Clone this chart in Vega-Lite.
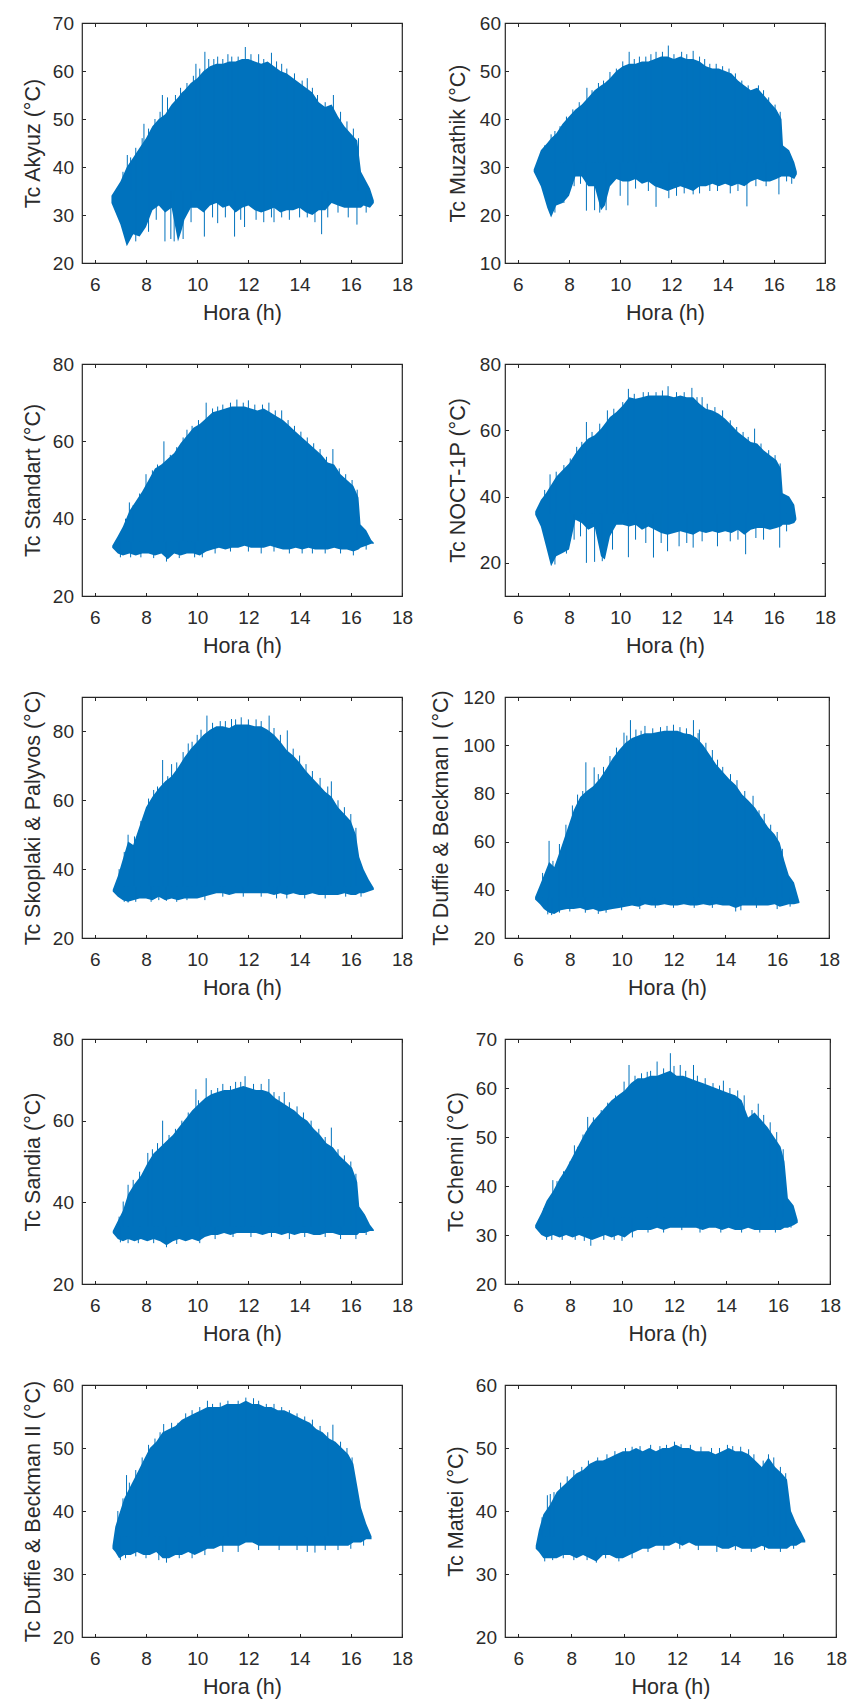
{
  "$schema": "https://vega.github.io/schema/vega-lite/v6.json",
  "padding": {"left": 21, "top": 13, "right": 5, "bottom": 5},
  "background": "white",
  "bounds": "flush",
  "columns": 2,
  "spacing": {"row": 101, "column": 103},
  "config": {
    "view": {"stroke": "#262626", "strokeWidth": 1.2},
    "axis": {"domain": false, "grid": false, "tickColor": "#262626", "tickSize": -3.5, "tickWidth": 1,
      "labelFont": "Liberation Sans", "labelFontSize": 19, "labelColor": "#2b2b2b", "labelFlush": false, "labelOverlap": false,
      "titleFont": "Liberation Sans", "titleFontSize": 21.5, "titleFontWeight": "normal", "titleColor": "#2b2b2b"},
    "axisBottom": {"labelPadding": 16, "titlePadding": 8},
    "axisLeft": {"labelPadding": 12, "titlePadding": 8}
  },
  "datasets": {
    "akyuz": [
      {"h":6.65,"lo":32.5,"hi":34},{"h":7.0,"lo":28,"hi":37},{"h":7.25,"lo":23.5,"hi":40},{"h":7.5,"lo":26,"hi":42},{"h":7.75,"lo":25.5,"hi":44},{"h":8.0,"lo":27.5,"hi":46},{"h":8.25,"lo":31,"hi":48.5},{"h":8.5,"lo":32,"hi":50},{"h":8.75,"lo":30.5,"hi":51},{"h":9.0,"lo":31.5,"hi":53},{"h":9.25,"lo":24.5,"hi":54.5},{"h":9.4,"lo":27,"hi":55.5},{"h":9.5,"lo":29,"hi":56},{"h":9.75,"lo":31.5,"hi":57.5},{"h":10.0,"lo":31.5,"hi":58.5},{"h":10.25,"lo":30.5,"hi":60},{"h":10.5,"lo":32,"hi":61},{"h":10.75,"lo":32.5,"hi":61.5},{"h":11.0,"lo":31.5,"hi":61.5},{"h":11.25,"lo":32,"hi":62},{"h":11.5,"lo":30.5,"hi":62},{"h":11.75,"lo":31.5,"hi":62.5},{"h":12.0,"lo":32,"hi":62.5},{"h":12.25,"lo":31,"hi":62},{"h":12.5,"lo":30.5,"hi":61.5},{"h":12.75,"lo":31,"hi":62},{"h":13.0,"lo":31.5,"hi":61},{"h":13.25,"lo":30.5,"hi":60},{"h":13.5,"lo":31,"hi":59.5},{"h":13.75,"lo":31,"hi":58.5},{"h":14.0,"lo":31.5,"hi":57.5},{"h":14.25,"lo":30.5,"hi":56.5},{"h":14.5,"lo":30,"hi":55.5},{"h":14.75,"lo":31,"hi":53.5},{"h":15.0,"lo":31,"hi":52.5},{"h":15.25,"lo":32.5,"hi":53},{"h":15.5,"lo":32,"hi":50.5},{"h":15.75,"lo":31.5,"hi":48.5},{"h":16.0,"lo":31.5,"hi":47},{"h":16.25,"lo":31.5,"hi":45.5},{"h":16.4,"lo":31.5,"hi":39},{"h":16.5,"lo":32,"hi":38},{"h":16.75,"lo":31.5,"hi":35.5},{"h":16.9,"lo":32.5,"hi":33}
    ],
    "akyuz_spikes": [
      {"h":7.27,"a":35,"b":42.5},{"h":7.92,"a":35,"b":49},{"h":8.64,"a":35,"b":55},{"h":8.84,"a":35,"b":54.5},{"h":9.95,"a":35,"b":61.5},{"h":10.3,"a":35,"b":64},{"h":10.8,"a":35,"b":63},{"h":11.2,"a":35,"b":63.5},{"h":11.88,"a":35,"b":65},{"h":12.4,"a":35,"b":63.5},{"h":12.9,"a":35,"b":63.8},{"h":13.3,"a":35,"b":61.5},{"h":14.3,"a":35,"b":58.5},{"h":15.32,"a":35,"b":55},
      {"h":7.1,"a":35,"b":39},{"h":7.4,"a":35,"b":42},{"h":7.6,"a":35,"b":44},{"h":7.85,"a":35,"b":46},{"h":8.1,"a":35,"b":48},{"h":8.35,"a":35,"b":50},{"h":8.55,"a":35,"b":51.5},{"h":9.15,"a":35,"b":55},{"h":9.35,"a":35,"b":56.5},{"h":9.6,"a":35,"b":57.5},{"h":9.85,"a":35,"b":59},{"h":10.1,"a":35,"b":60.5},{"h":10.45,"a":35,"b":62.5},{"h":10.65,"a":35,"b":62.5},{"h":11.0,"a":35,"b":62.5},{"h":11.35,"a":35,"b":63},{"h":11.6,"a":35,"b":63},{"h":12.1,"a":35,"b":63.5},{"h":12.6,"a":35,"b":62.5},{"h":13.1,"a":35,"b":62},{"h":13.5,"a":35,"b":60.5},{"h":13.8,"a":35,"b":59.5},{"h":14.1,"a":35,"b":58},{"h":14.5,"a":35,"b":56.5},{"h":14.7,"a":35,"b":55},{"h":15.0,"a":35,"b":53.5},{"h":15.6,"a":35,"b":51.5},{"h":15.85,"a":35,"b":49.5},{"h":16.1,"a":35,"b":48},{"h":16.3,"a":35,"b":46},
      {"h":8.74,"a":35,"b":24.5},{"h":8.97,"a":35,"b":25},{"h":9.1,"a":35,"b":24.5},{"h":9.76,"a":35,"b":28.5},{"h":10.28,"a":35,"b":25.5},{"h":10.8,"a":35,"b":28.3},{"h":11.46,"a":35,"b":25.5},{"h":11.85,"a":35,"b":27.5},{"h":12.3,"a":35,"b":29},{"h":13.0,"a":35,"b":28.5},{"h":13.6,"a":35,"b":29},{"h":14.3,"a":35,"b":29.5},{"h":14.86,"a":35,"b":26},{"h":16.24,"a":35,"b":28},
      {"h":7.6,"a":35,"b":24.5},{"h":8.1,"a":35,"b":26.5},{"h":8.4,"a":35,"b":29},{"h":9.45,"a":35,"b":25},{"h":10.6,"a":35,"b":29.5},{"h":11.1,"a":35,"b":29.5},{"h":11.7,"a":35,"b":29},{"h":12.6,"a":35,"b":28.5},{"h":12.9,"a":35,"b":29.5},{"h":13.3,"a":35,"b":29.5},{"h":14.0,"a":35,"b":29.5},{"h":14.6,"a":35,"b":28.5},{"h":15.1,"a":35,"b":29.5},{"h":15.5,"a":35,"b":30.5},{"h":15.9,"a":35,"b":29.5},{"h":16.6,"a":35,"b":30.5}
    ],
    "muzathik": [
      {"h":6.62,"lo":29,"hi":29.5},{"h":6.9,"lo":26,"hi":33.5},{"h":7.15,"lo":21.5,"hi":35},{"h":7.3,"lo":19.5,"hi":36},{"h":7.5,"lo":22,"hi":37},{"h":7.75,"lo":22.5,"hi":39},{"h":8.0,"lo":24,"hi":40.5},{"h":8.25,"lo":28,"hi":42},{"h":8.5,"lo":28,"hi":43},{"h":8.75,"lo":26,"hi":44.5},{"h":9.0,"lo":26,"hi":46},{"h":9.25,"lo":21,"hi":47},{"h":9.4,"lo":22,"hi":47.5},{"h":9.6,"lo":26,"hi":48.5},{"h":9.85,"lo":27.5,"hi":50},{"h":10.1,"lo":27,"hi":51},{"h":10.35,"lo":27,"hi":51.5},{"h":10.6,"lo":27.5,"hi":51.5},{"h":10.85,"lo":26.5,"hi":52},{"h":11.1,"lo":27,"hi":52},{"h":11.35,"lo":26,"hi":52.5},{"h":11.6,"lo":25.5,"hi":53},{"h":11.85,"lo":25,"hi":53},{"h":12.1,"lo":25.5,"hi":52.5},{"h":12.35,"lo":26,"hi":53},{"h":12.6,"lo":25.5,"hi":52.5},{"h":12.85,"lo":25,"hi":52.5},{"h":13.1,"lo":26,"hi":52},{"h":13.35,"lo":26,"hi":51},{"h":13.6,"lo":26.5,"hi":50.5},{"h":13.85,"lo":26,"hi":50.5},{"h":14.1,"lo":26.5,"hi":50},{"h":14.35,"lo":26,"hi":49.5},{"h":14.6,"lo":26.5,"hi":48},{"h":14.85,"lo":26,"hi":47},{"h":15.1,"lo":27,"hi":46},{"h":15.35,"lo":27.5,"hi":46.5},{"h":15.6,"lo":27,"hi":45},{"h":15.85,"lo":27,"hi":43.5},{"h":16.1,"lo":27.5,"hi":42},{"h":16.3,"lo":28,"hi":40},{"h":16.36,"lo":28,"hi":34.5},{"h":16.6,"lo":28,"hi":33.5},{"h":16.8,"lo":27.5,"hi":31},{"h":16.9,"lo":28.5,"hi":29}
    ],
    "muzathik_spikes": [
      {"h":7.3,"a":31,"b":36.8},{"h":8.7,"a":31,"b":46.5},{"h":9.6,"a":31,"b":49.8},{"h":10.35,"a":31,"b":54},{"h":10.75,"a":31,"b":53},{"h":11.4,"a":31,"b":54},{"h":11.88,"a":31,"b":55.3},{"h":12.85,"a":31,"b":54.2},{"h":13.3,"a":31,"b":52.5},{"h":14.0,"a":31,"b":51},{"h":15.4,"a":31,"b":47},
      {"h":7.05,"a":31,"b":34.5},{"h":7.45,"a":31,"b":37.5},{"h":7.65,"a":31,"b":38.5},{"h":7.9,"a":31,"b":40.5},{"h":8.15,"a":31,"b":42},{"h":8.4,"a":31,"b":43.5},{"h":8.9,"a":31,"b":46},{"h":9.15,"a":31,"b":47.5},{"h":9.35,"a":31,"b":48},{"h":9.85,"a":31,"b":50.5},{"h":10.1,"a":31,"b":52},{"h":10.55,"a":31,"b":52.5},{"h":11.0,"a":31,"b":53},{"h":11.2,"a":31,"b":53.5},{"h":11.65,"a":31,"b":54},{"h":12.1,"a":31,"b":53.5},{"h":12.4,"a":31,"b":54},{"h":12.6,"a":31,"b":53.5},{"h":13.1,"a":31,"b":53},{"h":13.5,"a":31,"b":51.5},{"h":13.75,"a":31,"b":51.5},{"h":14.25,"a":31,"b":50.5},{"h":14.5,"a":31,"b":49.5},{"h":14.75,"a":31,"b":48},{"h":15.0,"a":31,"b":47},{"h":15.6,"a":31,"b":46},{"h":15.8,"a":31,"b":44.5},{"h":16.05,"a":31,"b":43},{"h":16.25,"a":31,"b":41.5},
      {"h":7.8,"a":31,"b":22.5},{"h":8.68,"a":31,"b":20.9},{"h":9.0,"a":31,"b":21},{"h":10.0,"a":31,"b":24},{"h":10.3,"a":31,"b":22},{"h":11.4,"a":31,"b":21.7},{"h":11.9,"a":31,"b":23.5},{"h":12.85,"a":31,"b":24.3},{"h":13.5,"a":31,"b":25},{"h":14.95,"a":31,"b":21.8},{"h":16.2,"a":31,"b":24.3},
      {"h":7.45,"a":31,"b":20.5},{"h":8.2,"a":31,"b":26},{"h":8.45,"a":31,"b":26.5},{"h":9.2,"a":31,"b":20.5},{"h":9.45,"a":31,"b":21},{"h":10.6,"a":31,"b":25.5},{"h":11.1,"a":31,"b":25},{"h":12.2,"a":31,"b":24},{"h":12.5,"a":31,"b":24.5},{"h":13.1,"a":31,"b":24.5},{"h":13.8,"a":31,"b":25},{"h":14.3,"a":31,"b":24.5},{"h":14.6,"a":31,"b":25},{"h":15.3,"a":31,"b":26},{"h":15.7,"a":31,"b":26},{"h":16.5,"a":31,"b":27},{"h":16.7,"a":31,"b":26.5}
    ],
    "standart": [
      {"h":6.68,"lo":32.5,"hi":33},{"h":6.9,"lo":31,"hi":35.5},{"h":7.1,"lo":30.5,"hi":38},{"h":7.35,"lo":31,"hi":42},{"h":7.6,"lo":30.5,"hi":44.5},{"h":7.85,"lo":31,"hi":47},{"h":8.1,"lo":31,"hi":50},{"h":8.35,"lo":30.5,"hi":53},{"h":8.6,"lo":31,"hi":54},{"h":8.85,"lo":29.5,"hi":55.5},{"h":9.1,"lo":31,"hi":57},{"h":9.35,"lo":30.5,"hi":59.5},{"h":9.6,"lo":31,"hi":61.5},{"h":9.85,"lo":31,"hi":63.5},{"h":10.1,"lo":30.5,"hi":64.5},{"h":10.35,"lo":31.5,"hi":66},{"h":10.6,"lo":32,"hi":67.5},{"h":10.85,"lo":32.5,"hi":68},{"h":11.1,"lo":32,"hi":68.5},{"h":11.35,"lo":32.5,"hi":69},{"h":11.6,"lo":32.5,"hi":69},{"h":11.85,"lo":33,"hi":69},{"h":12.1,"lo":32.5,"hi":68.5},{"h":12.35,"lo":32.5,"hi":68},{"h":12.6,"lo":32.5,"hi":68.5},{"h":12.85,"lo":33,"hi":67.5},{"h":13.1,"lo":32.5,"hi":66.5},{"h":13.35,"lo":32,"hi":65.5},{"h":13.6,"lo":32,"hi":64},{"h":13.85,"lo":32.5,"hi":62.5},{"h":14.1,"lo":32,"hi":61},{"h":14.35,"lo":32.5,"hi":59.5},{"h":14.6,"lo":32,"hi":58},{"h":14.85,"lo":32,"hi":56.5},{"h":15.1,"lo":32,"hi":54.5},{"h":15.35,"lo":32.5,"hi":54},{"h":15.6,"lo":32,"hi":51.5},{"h":15.85,"lo":32,"hi":50},{"h":16.1,"lo":31.5,"hi":48.5},{"h":16.3,"lo":32,"hi":45.5},{"h":16.38,"lo":32.5,"hi":38.5},{"h":16.6,"lo":33,"hi":37},{"h":16.8,"lo":33.5,"hi":34.5},{"h":16.9,"lo":33.5,"hi":33.8}
    ],
    "standart_spikes": [
      {"h":7.35,"a":34,"b":44.2},{"h":8.0,"a":34,"b":51.5},{"h":8.7,"a":34,"b":60},{"h":9.6,"a":34,"b":63},{"h":10.35,"a":34,"b":70},{"h":11.0,"a":34,"b":69.5},{"h":11.55,"a":34,"b":70.8},{"h":12.0,"a":34,"b":70.6},{"h":12.8,"a":34,"b":70},{"h":13.3,"a":34,"b":68},{"h":15.3,"a":34,"b":58},
      {"h":7.2,"a":34,"b":40},{"h":7.5,"a":34,"b":43.5},{"h":7.75,"a":34,"b":46.5},{"h":8.25,"a":34,"b":52.5},{"h":8.45,"a":34,"b":54},{"h":8.95,"a":34,"b":56.5},{"h":9.2,"a":34,"b":58.5},{"h":9.45,"a":34,"b":61},{"h":9.8,"a":34,"b":64},{"h":10.05,"a":34,"b":65.5},{"h":10.6,"a":34,"b":68.5},{"h":10.8,"a":34,"b":69},{"h":11.3,"a":34,"b":70},{"h":11.8,"a":34,"b":70},{"h":12.25,"a":34,"b":69.5},{"h":12.55,"a":34,"b":69.5},{"h":13.05,"a":34,"b":68},{"h":13.55,"a":34,"b":65.5},{"h":13.8,"a":34,"b":64},{"h":14.05,"a":34,"b":62.5},{"h":14.3,"a":34,"b":61},{"h":14.55,"a":34,"b":59.5},{"h":14.8,"a":34,"b":58},{"h":15.05,"a":34,"b":56},{"h":15.55,"a":34,"b":53},{"h":15.8,"a":34,"b":51.5},{"h":16.05,"a":34,"b":50},{"h":16.25,"a":34,"b":47.5},
      {"h":7.0,"a":34,"b":30},{"h":8.8,"a":34,"b":28.9},{"h":9.9,"a":34,"b":30},{"h":12.5,"a":34,"b":31},{"h":14.5,"a":34,"b":31},
      {"h":7.4,"a":34,"b":30},{"h":7.8,"a":34,"b":30},{"h":8.3,"a":34,"b":29.8},{"h":9.3,"a":34,"b":29.8},{"h":10.2,"a":34,"b":30},{"h":10.7,"a":34,"b":31},{"h":11.3,"a":34,"b":31.5},{"h":12.0,"a":34,"b":31.5},{"h":13.0,"a":34,"b":31.5},{"h":13.6,"a":34,"b":31},{"h":14.1,"a":34,"b":31},{"h":15.0,"a":34,"b":31},{"h":15.6,"a":34,"b":31},{"h":16.1,"a":34,"b":30.5},{"h":16.6,"a":34,"b":32}
    ],
    "noct": [
      {"h":6.68,"lo":34.5,"hi":35.5},{"h":6.9,"lo":31,"hi":39},{"h":7.1,"lo":25,"hi":41},{"h":7.3,"lo":19,"hi":43.5},{"h":7.5,"lo":22,"hi":46},{"h":7.75,"lo":23,"hi":48},{"h":8.0,"lo":24,"hi":50},{"h":8.25,"lo":33,"hi":53},{"h":8.5,"lo":32,"hi":55.5},{"h":8.75,"lo":30,"hi":57.5},{"h":9.0,"lo":31,"hi":58.5},{"h":9.25,"lo":22,"hi":60.5},{"h":9.4,"lo":21,"hi":62},{"h":9.6,"lo":28,"hi":64},{"h":9.85,"lo":31.5,"hi":65.5},{"h":10.1,"lo":31.5,"hi":67.5},{"h":10.35,"lo":31,"hi":70},{"h":10.6,"lo":31.5,"hi":69.5},{"h":10.85,"lo":30,"hi":70},{"h":11.1,"lo":31,"hi":70.5},{"h":11.35,"lo":30,"hi":70.5},{"h":11.6,"lo":29,"hi":70.5},{"h":11.85,"lo":28.5,"hi":70.5},{"h":12.1,"lo":29,"hi":70},{"h":12.35,"lo":29.5,"hi":70.5},{"h":12.6,"lo":29,"hi":70},{"h":12.85,"lo":28.5,"hi":70},{"h":13.1,"lo":29.5,"hi":68},{"h":13.35,"lo":29,"hi":66.5},{"h":13.6,"lo":29.5,"hi":66},{"h":13.85,"lo":29,"hi":65},{"h":14.1,"lo":29.5,"hi":63.5},{"h":14.35,"lo":29,"hi":61.5},{"h":14.6,"lo":30,"hi":59.5},{"h":14.85,"lo":28.5,"hi":58},{"h":15.1,"lo":30,"hi":56.5},{"h":15.35,"lo":30.5,"hi":56},{"h":15.6,"lo":30.5,"hi":54},{"h":15.85,"lo":30,"hi":52.5},{"h":16.1,"lo":30.5,"hi":51},{"h":16.28,"lo":31,"hi":48.5},{"h":16.35,"lo":31.5,"hi":41},{"h":16.6,"lo":31.5,"hi":40},{"h":16.8,"lo":32,"hi":37.5},{"h":16.88,"lo":33,"hi":33.5}
    ],
    "noct_spikes": [
      {"h":7.26,"a":35,"b":46.7},{"h":8.68,"a":35,"b":62.5},{"h":9.5,"a":35,"b":66},{"h":10.32,"a":35,"b":72.5},{"h":10.9,"a":35,"b":71.5},{"h":11.87,"a":35,"b":73.3},{"h":12.8,"a":35,"b":72.8},{"h":13.2,"a":35,"b":70},{"h":15.25,"a":35,"b":60.5},
      {"h":7.05,"a":35,"b":42},{"h":7.5,"a":35,"b":47.5},{"h":7.8,"a":35,"b":49.5},{"h":8.05,"a":35,"b":51.5},{"h":8.3,"a":35,"b":55},{"h":8.5,"a":35,"b":56.5},{"h":8.9,"a":35,"b":59.5},{"h":9.2,"a":35,"b":62},{"h":9.75,"a":35,"b":66.5},{"h":10.1,"a":35,"b":68.5},{"h":10.55,"a":35,"b":71},{"h":11.1,"a":35,"b":71.5},{"h":11.4,"a":35,"b":71.5},{"h":11.65,"a":35,"b":72},{"h":12.2,"a":35,"b":71.5},{"h":12.5,"a":35,"b":71.5},{"h":13.0,"a":35,"b":70},{"h":13.4,"a":35,"b":68},{"h":13.7,"a":35,"b":67},{"h":14.0,"a":35,"b":66},{"h":14.3,"a":35,"b":63},{"h":14.55,"a":35,"b":61},{"h":14.8,"a":35,"b":59.5},{"h":15.0,"a":35,"b":58},{"h":15.5,"a":35,"b":56},{"h":15.8,"a":35,"b":54},{"h":16.05,"a":35,"b":52.5},{"h":16.25,"a":35,"b":50},
      {"h":7.9,"a":35,"b":22.8},{"h":8.68,"a":35,"b":20},{"h":9.0,"a":35,"b":20.3},{"h":10.32,"a":35,"b":21.7},{"h":11.3,"a":35,"b":21.6},{"h":11.85,"a":35,"b":23.5},{"h":12.85,"a":35,"b":24.6},{"h":13.8,"a":35,"b":25},{"h":14.9,"a":35,"b":22.6},{"h":16.23,"a":35,"b":24.6},
      {"h":7.45,"a":35,"b":19.5},{"h":8.2,"a":35,"b":27},{"h":8.45,"a":35,"b":28},{"h":9.3,"a":35,"b":20.5},{"h":9.7,"a":35,"b":24},{"h":10.6,"a":35,"b":27},{"h":11.0,"a":35,"b":26},{"h":11.6,"a":35,"b":26},{"h":12.3,"a":35,"b":25},{"h":12.6,"a":35,"b":26},{"h":13.2,"a":35,"b":26.5},{"h":14.3,"a":35,"b":26.5},{"h":14.6,"a":35,"b":27},{"h":15.3,"a":35,"b":27.5},{"h":15.6,"a":35,"b":27},{"h":16.5,"a":35,"b":29.5}
    ],
    "skoplaki": [
      {"h":6.7,"lo":33.5,"hi":34},{"h":6.9,"lo":32,"hi":38},{"h":7.1,"lo":31,"hi":43},{"h":7.3,"lo":30.5,"hi":48},{"h":7.5,"lo":31,"hi":47},{"h":7.75,"lo":31.5,"hi":52.5},{"h":8.0,"lo":31.5,"hi":58},{"h":8.25,"lo":31,"hi":61},{"h":8.5,"lo":32,"hi":63.5},{"h":8.75,"lo":31,"hi":65.5},{"h":9.0,"lo":31.5,"hi":67},{"h":9.25,"lo":31,"hi":69.5},{"h":9.5,"lo":31.5,"hi":72.5},{"h":9.75,"lo":31.5,"hi":75},{"h":10.0,"lo":31.5,"hi":77},{"h":10.25,"lo":32,"hi":79},{"h":10.5,"lo":32.5,"hi":80.5},{"h":10.75,"lo":33,"hi":81.5},{"h":11.0,"lo":33,"hi":81.5},{"h":11.25,"lo":32.5,"hi":81},{"h":11.5,"lo":33,"hi":82},{"h":11.75,"lo":33,"hi":82},{"h":12.0,"lo":33,"hi":82},{"h":12.25,"lo":33,"hi":81.5},{"h":12.5,"lo":33,"hi":81.5},{"h":12.75,"lo":33,"hi":80.5},{"h":13.0,"lo":32.5,"hi":79},{"h":13.25,"lo":33,"hi":77},{"h":13.5,"lo":32.5,"hi":74.5},{"h":13.75,"lo":33,"hi":73},{"h":14.0,"lo":32.5,"hi":71},{"h":14.25,"lo":32.5,"hi":68.5},{"h":14.5,"lo":33,"hi":66.5},{"h":14.75,"lo":32.5,"hi":64.5},{"h":15.0,"lo":32.5,"hi":62.5},{"h":15.25,"lo":32.5,"hi":61},{"h":15.5,"lo":32.5,"hi":58},{"h":15.75,"lo":33,"hi":56},{"h":16.0,"lo":32.5,"hi":54},{"h":16.2,"lo":32.5,"hi":50},{"h":16.33,"lo":33,"hi":43.5},{"h":16.5,"lo":33,"hi":40},{"h":16.7,"lo":33.5,"hi":37},{"h":16.9,"lo":34,"hi":34.5}
    ],
    "skoplaki_spikes": [
      {"h":7.3,"a":35,"b":50},{"h":8.65,"a":35,"b":71.7},{"h":9.0,"a":35,"b":70.5},{"h":9.8,"a":35,"b":77},{"h":10.38,"a":35,"b":84.6},{"h":10.9,"a":35,"b":83},{"h":11.34,"a":35,"b":83.6},{"h":11.72,"a":35,"b":84.1},{"h":12.3,"a":35,"b":83.5},{"h":12.81,"a":35,"b":84.6},{"h":13.52,"a":35,"b":80.3},{"h":15.24,"a":35,"b":65.5},
      {"h":6.95,"a":35,"b":40},{"h":7.15,"a":35,"b":45},{"h":7.55,"a":35,"b":49.5},{"h":7.8,"a":35,"b":54},{"h":8.1,"a":35,"b":60.5},{"h":8.3,"a":35,"b":63},{"h":8.45,"a":35,"b":64},{"h":8.85,"a":35,"b":67},{"h":9.2,"a":35,"b":71},{"h":9.45,"a":35,"b":74},{"h":9.65,"a":35,"b":76.5},{"h":10.0,"a":35,"b":79},{"h":10.15,"a":35,"b":80.5},{"h":10.6,"a":35,"b":82.5},{"h":11.1,"a":35,"b":83},{"h":11.5,"a":35,"b":83.5},{"h":12.0,"a":35,"b":83.5},{"h":12.5,"a":35,"b":83},{"h":13.0,"a":35,"b":81},{"h":13.25,"a":35,"b":79},{"h":13.75,"a":35,"b":75},{"h":14.0,"a":35,"b":73},{"h":14.25,"a":35,"b":70.5},{"h":14.5,"a":35,"b":68.5},{"h":14.8,"a":35,"b":66.5},{"h":15.1,"a":35,"b":64},{"h":15.5,"a":35,"b":60},{"h":15.75,"a":35,"b":58},{"h":16.0,"a":35,"b":56},{"h":16.2,"a":35,"b":52},
      {"h":7.3,"a":35,"b":30.3},{"h":8.8,"a":35,"b":30.8},{"h":13.1,"a":35,"b":31.5},
      {"h":7.15,"a":35,"b":30.5},{"h":7.6,"a":35,"b":30.5},{"h":8.2,"a":35,"b":30.5},{"h":8.5,"a":35,"b":31},{"h":9.2,"a":35,"b":30.5},{"h":9.6,"a":35,"b":31},{"h":10.3,"a":35,"b":31},{"h":11.0,"a":35,"b":32},{"h":11.8,"a":35,"b":32},{"h":12.5,"a":35,"b":32},{"h":13.5,"a":35,"b":31.5},{"h":14.2,"a":35,"b":31.5},{"h":15.0,"a":35,"b":31.5},{"h":15.8,"a":35,"b":32},{"h":16.4,"a":35,"b":32}
    ],
    "duffie1": [
      {"h":6.66,"lo":36,"hi":37},{"h":6.85,"lo":34,"hi":42},{"h":7.0,"lo":32,"hi":46},{"h":7.2,"lo":30.5,"hi":51.5},{"h":7.4,"lo":30,"hi":49.5},{"h":7.65,"lo":31.5,"hi":57},{"h":7.9,"lo":32,"hi":65},{"h":8.15,"lo":32,"hi":73},{"h":8.4,"lo":32.5,"hi":78.5},{"h":8.65,"lo":31.5,"hi":81},{"h":8.9,"lo":32,"hi":83},{"h":9.15,"lo":31,"hi":86},{"h":9.4,"lo":31.5,"hi":90},{"h":9.65,"lo":32,"hi":94.5},{"h":9.9,"lo":32.5,"hi":98},{"h":10.15,"lo":33,"hi":101},{"h":10.4,"lo":33.5,"hi":103},{"h":10.65,"lo":33,"hi":104},{"h":10.9,"lo":34,"hi":105},{"h":11.15,"lo":33.5,"hi":105},{"h":11.4,"lo":33.5,"hi":105.5},{"h":11.65,"lo":34,"hi":106},{"h":11.9,"lo":33.5,"hi":106},{"h":12.15,"lo":33.5,"hi":106},{"h":12.4,"lo":34,"hi":105},{"h":12.65,"lo":33.5,"hi":104.5},{"h":12.9,"lo":33.5,"hi":103},{"h":13.15,"lo":34,"hi":100},{"h":13.4,"lo":33.5,"hi":96},{"h":13.65,"lo":34,"hi":92},{"h":13.9,"lo":33.5,"hi":89},{"h":14.15,"lo":33.5,"hi":86},{"h":14.4,"lo":32.5,"hi":83.5},{"h":14.65,"lo":33.5,"hi":79.5},{"h":14.9,"lo":33.5,"hi":77},{"h":15.15,"lo":33.5,"hi":74},{"h":15.4,"lo":33.5,"hi":70},{"h":15.65,"lo":33.5,"hi":66},{"h":15.9,"lo":34,"hi":63},{"h":16.1,"lo":33,"hi":59.5},{"h":16.28,"lo":33.5,"hi":52},{"h":16.45,"lo":34,"hi":46},{"h":16.65,"lo":34,"hi":43},{"h":16.86,"lo":34.5,"hi":35}
    ],
    "duffie1_spikes": [
      {"h":7.2,"a":37,"b":60.3},{"h":8.62,"a":37,"b":92.9},{"h":8.94,"a":37,"b":90.8},{"h":10.09,"a":37,"b":105.2},{"h":10.34,"a":37,"b":110.4},{"h":10.9,"a":37,"b":108},{"h":11.5,"a":37,"b":107.5},{"h":12.0,"a":37,"b":108.5},{"h":12.77,"a":37,"b":110.4},{"h":13.0,"a":37,"b":106.5},{"h":13.5,"a":37,"b":98},{"h":15.07,"a":37,"b":79},{"h":15.5,"a":37,"b":71.5},
      {"h":6.95,"a":37,"b":47},{"h":7.35,"a":37,"b":52},{"h":7.6,"a":37,"b":59},{"h":7.85,"a":37,"b":67},{"h":8.1,"a":37,"b":75},{"h":8.3,"a":37,"b":79.5},{"h":8.5,"a":37,"b":81},{"h":9.1,"a":37,"b":88},{"h":9.3,"a":37,"b":91},{"h":9.55,"a":37,"b":95.5},{"h":9.8,"a":37,"b":99},{"h":10.2,"a":37,"b":104},{"h":10.55,"a":37,"b":106.5},{"h":10.75,"a":37,"b":106},{"h":11.2,"a":37,"b":107},{"h":11.75,"a":37,"b":108},{"h":12.25,"a":37,"b":107.5},{"h":12.5,"a":37,"b":107},{"h":12.95,"a":37,"b":105},{"h":13.25,"a":37,"b":101},{"h":13.7,"a":37,"b":94},{"h":13.9,"a":37,"b":91},{"h":14.2,"a":37,"b":88},{"h":14.45,"a":37,"b":85.5},{"h":14.75,"a":37,"b":81},{"h":15.3,"a":37,"b":73},{"h":15.75,"a":37,"b":67},{"h":16.0,"a":37,"b":64},{"h":16.2,"a":37,"b":57},
      {"h":7.15,"a":37,"b":29.8},{"h":9.4,"a":37,"b":30.5},{"h":14.6,"a":37,"b":31.5},
      {"h":7.3,"a":37,"b":29.5},{"h":7.6,"a":37,"b":30.5},{"h":8.0,"a":37,"b":31},{"h":8.6,"a":37,"b":30.5},{"h":9.1,"a":37,"b":30},{"h":10.0,"a":37,"b":31.5},{"h":10.7,"a":37,"b":32},{"h":11.3,"a":37,"b":32.5},{"h":12.0,"a":37,"b":32.5},{"h":12.8,"a":37,"b":32.5},{"h":13.5,"a":37,"b":32.5},{"h":14.4,"a":37,"b":31},{"h":15.2,"a":37,"b":32.5},{"h":16.0,"a":37,"b":32},{"h":16.5,"a":37,"b":33}
    ],
    "sandia": [
      {"h":6.7,"lo":32.5,"hi":33},{"h":6.9,"lo":31,"hi":35.5},{"h":7.1,"lo":30.5,"hi":38},{"h":7.3,"lo":31,"hi":42},{"h":7.55,"lo":30.5,"hi":44.5},{"h":7.8,"lo":31,"hi":46.5},{"h":8.05,"lo":30.5,"hi":49.5},{"h":8.3,"lo":31,"hi":52},{"h":8.55,"lo":30.5,"hi":53.5},{"h":8.8,"lo":29.5,"hi":55},{"h":9.05,"lo":30.5,"hi":56.5},{"h":9.3,"lo":31,"hi":58.5},{"h":9.55,"lo":30.5,"hi":60.5},{"h":9.8,"lo":31,"hi":62.5},{"h":10.05,"lo":30.5,"hi":64},{"h":10.3,"lo":31.5,"hi":65.5},{"h":10.55,"lo":32,"hi":66.5},{"h":10.8,"lo":32,"hi":67},{"h":11.05,"lo":32.5,"hi":67.5},{"h":11.3,"lo":32,"hi":67.5},{"h":11.55,"lo":32.5,"hi":68},{"h":11.8,"lo":32.5,"hi":68.5},{"h":12.05,"lo":32.5,"hi":68},{"h":12.3,"lo":32.5,"hi":67.5},{"h":12.55,"lo":32,"hi":67.5},{"h":12.8,"lo":32.5,"hi":67},{"h":13.05,"lo":32.5,"hi":65.5},{"h":13.3,"lo":32,"hi":64.5},{"h":13.55,"lo":32.5,"hi":63.5},{"h":13.8,"lo":32,"hi":62.5},{"h":14.05,"lo":32.5,"hi":61},{"h":14.3,"lo":32.5,"hi":60},{"h":14.55,"lo":32,"hi":58},{"h":14.8,"lo":32,"hi":56.5},{"h":15.05,"lo":32.5,"hi":54.5},{"h":15.3,"lo":32.5,"hi":53.5},{"h":15.55,"lo":32,"hi":51.5},{"h":15.8,"lo":32,"hi":50},{"h":16.05,"lo":32,"hi":48.5},{"h":16.25,"lo":32,"hi":45},{"h":16.33,"lo":32.5,"hi":39},{"h":16.55,"lo":32.5,"hi":37},{"h":16.75,"lo":33,"hi":34.5},{"h":16.9,"lo":33,"hi":33.3}
    ],
    "sandia_spikes": [
      {"h":7.11,"a":34,"b":40.2},{"h":7.3,"a":34,"b":44.3},{"h":8.07,"a":34,"b":52.1},{"h":8.65,"a":34,"b":60},{"h":9.95,"a":34,"b":67.7},{"h":10.35,"a":34,"b":70.4},{"h":11.0,"a":34,"b":69},{"h":11.5,"a":34,"b":69.5},{"h":11.87,"a":34,"b":70.9},{"h":12.8,"a":34,"b":70.2},{"h":13.4,"a":34,"b":67},{"h":15.24,"a":34,"b":58.3},
      {"h":6.95,"a":34,"b":36.5},{"h":7.5,"a":34,"b":45.5},{"h":7.75,"a":34,"b":47.5},{"h":8.25,"a":34,"b":53},{"h":8.45,"a":34,"b":54.5},{"h":8.9,"a":34,"b":56.5},{"h":9.15,"a":34,"b":58},{"h":9.4,"a":34,"b":60},{"h":9.65,"a":34,"b":62},{"h":10.05,"a":34,"b":65},{"h":10.55,"a":34,"b":67.5},{"h":10.8,"a":34,"b":68},{"h":11.3,"a":34,"b":68.5},{"h":11.7,"a":34,"b":69.5},{"h":12.2,"a":34,"b":69},{"h":12.5,"a":34,"b":69},{"h":13.0,"a":34,"b":67},{"h":13.2,"a":34,"b":66},{"h":13.6,"a":34,"b":64.5},{"h":13.9,"a":34,"b":63.5},{"h":14.15,"a":34,"b":62},{"h":14.45,"a":34,"b":60},{"h":14.75,"a":34,"b":58},{"h":15.0,"a":34,"b":56},{"h":15.5,"a":34,"b":53},{"h":15.75,"a":34,"b":51.5},{"h":16.0,"a":34,"b":50},{"h":16.2,"a":34,"b":47},
      {"h":7.0,"a":34,"b":30.2},{"h":8.8,"a":34,"b":29},
      {"h":7.3,"a":34,"b":30},{"h":7.7,"a":34,"b":30},{"h":8.3,"a":34,"b":30},{"h":9.2,"a":34,"b":29.8},{"h":10.1,"a":34,"b":30},{"h":10.7,"a":34,"b":31},{"h":11.4,"a":34,"b":31.5},{"h":12.1,"a":34,"b":31.5},{"h":12.9,"a":34,"b":31.5},{"h":13.6,"a":34,"b":31},{"h":14.2,"a":34,"b":31.5},{"h":15.0,"a":34,"b":31.5},{"h":15.6,"a":34,"b":31},{"h":16.2,"a":34,"b":31},{"h":16.6,"a":34,"b":32}
    ],
    "chenni": [
      {"h":6.66,"lo":31.5,"hi":32},{"h":6.9,"lo":30,"hi":34.5},{"h":7.1,"lo":29.5,"hi":37},{"h":7.35,"lo":30,"hi":39},{"h":7.6,"lo":29.5,"hi":41.5},{"h":7.85,"lo":30,"hi":43.5},{"h":8.1,"lo":29.5,"hi":46},{"h":8.35,"lo":30,"hi":48.5},{"h":8.6,"lo":29.5,"hi":51},{"h":8.85,"lo":29,"hi":53},{"h":9.1,"lo":29.5,"hi":54.5},{"h":9.35,"lo":30,"hi":56},{"h":9.6,"lo":29.5,"hi":57.5},{"h":9.85,"lo":30,"hi":58.5},{"h":10.1,"lo":29.5,"hi":59.5},{"h":10.35,"lo":30.5,"hi":61},{"h":10.6,"lo":31,"hi":62},{"h":10.85,"lo":31,"hi":62},{"h":11.1,"lo":31,"hi":62.5},{"h":11.35,"lo":31.5,"hi":62.5},{"h":11.6,"lo":31,"hi":63},{"h":11.85,"lo":31.5,"hi":63.5},{"h":12.1,"lo":31.5,"hi":62.5},{"h":12.35,"lo":31.5,"hi":62.5},{"h":12.6,"lo":31.5,"hi":62},{"h":12.85,"lo":31.5,"hi":61.5},{"h":13.1,"lo":31,"hi":61},{"h":13.35,"lo":31.5,"hi":60.5},{"h":13.6,"lo":31.5,"hi":60},{"h":13.85,"lo":31,"hi":59.5},{"h":14.1,"lo":31.5,"hi":59},{"h":14.35,"lo":31,"hi":58.5},{"h":14.6,"lo":31,"hi":57.5},{"h":14.85,"lo":31.5,"hi":54},{"h":15.1,"lo":31,"hi":55},{"h":15.35,"lo":31,"hi":53.5},{"h":15.6,"lo":31,"hi":52},{"h":15.85,"lo":31,"hi":50},{"h":16.1,"lo":31,"hi":48},{"h":16.25,"lo":31.5,"hi":45},{"h":16.38,"lo":31.5,"hi":37.5},{"h":16.6,"lo":32,"hi":36},{"h":16.76,"lo":32.5,"hi":33}
    ],
    "chenni_spikes": [
      {"h":7.34,"a":33.5,"b":41.2},{"h":8.17,"a":33.5,"b":48.3},{"h":8.68,"a":33.5,"b":54.1},{"h":10.08,"a":33.5,"b":61.3},{"h":10.27,"a":33.5,"b":64.7},{"h":10.97,"a":33.5,"b":63.3},{"h":11.35,"a":33.5,"b":65.4},{"h":11.86,"a":33.5,"b":67.1},{"h":12.24,"a":33.5,"b":64.7},{"h":12.75,"a":33.5,"b":64.7},{"h":13.9,"a":33.5,"b":61.5},{"h":15.24,"a":33.5,"b":56.8},
      {"h":7.0,"a":33.5,"b":35.5},{"h":7.5,"a":33.5,"b":41},{"h":7.75,"a":33.5,"b":43},{"h":8.0,"a":33.5,"b":45},{"h":8.3,"a":33.5,"b":48},{"h":8.5,"a":33.5,"b":50.5},{"h":8.9,"a":33.5,"b":54},{"h":9.2,"a":33.5,"b":55.5},{"h":9.45,"a":33.5,"b":57},{"h":9.75,"a":33.5,"b":58.5},{"h":10.5,"a":33.5,"b":62.5},{"h":10.75,"a":33.5,"b":63},{"h":11.1,"a":33.5,"b":63.5},{"h":11.6,"a":33.5,"b":64},{"h":12.0,"a":33.5,"b":64.5},{"h":12.45,"a":33.5,"b":63.5},{"h":12.9,"a":33.5,"b":62.5},{"h":13.2,"a":33.5,"b":62},{"h":13.5,"a":33.5,"b":61},{"h":13.75,"a":33.5,"b":60.5},{"h":14.15,"a":33.5,"b":60},{"h":14.45,"a":33.5,"b":59.5},{"h":14.7,"a":33.5,"b":58.5},{"h":15.0,"a":33.5,"b":55.5},{"h":15.45,"a":33.5,"b":54.5},{"h":15.7,"a":33.5,"b":53},{"h":15.95,"a":33.5,"b":51},{"h":16.2,"a":33.5,"b":47.5},
      {"h":7.1,"a":33.5,"b":29},{"h":8.8,"a":33.5,"b":27.8},{"h":10.0,"a":33.5,"b":28.8},
      {"h":7.3,"a":33.5,"b":29},{"h":7.7,"a":33.5,"b":29},{"h":8.2,"a":33.5,"b":29},{"h":8.55,"a":33.5,"b":28.8},{"h":9.3,"a":33.5,"b":29},{"h":9.7,"a":33.5,"b":29},{"h":10.4,"a":33.5,"b":29.5},{"h":11.0,"a":33.5,"b":30.5},{"h":11.6,"a":33.5,"b":30.5},{"h":12.3,"a":33.5,"b":31},{"h":13.0,"a":33.5,"b":30.5},{"h":13.8,"a":33.5,"b":30.5},{"h":14.6,"a":33.5,"b":30.5},{"h":15.3,"a":33.5,"b":30.5},{"h":15.9,"a":33.5,"b":30.5},{"h":16.5,"a":33.5,"b":31.5}
    ],
    "duffie2": [
      {"h":6.69,"lo":34,"hi":34.5},{"h":6.8,"lo":33.5,"hi":37.5},{"h":6.95,"lo":32.5,"hi":39.5},{"h":7.15,"lo":33,"hi":42},{"h":7.4,"lo":33,"hi":44},{"h":7.65,"lo":33.5,"hi":46},{"h":7.9,"lo":33,"hi":48},{"h":8.15,"lo":33,"hi":50},{"h":8.4,"lo":33.5,"hi":51},{"h":8.65,"lo":32.5,"hi":52.5},{"h":8.9,"lo":32.5,"hi":53},{"h":9.15,"lo":33,"hi":53.5},{"h":9.4,"lo":33,"hi":54.5},{"h":9.65,"lo":33.5,"hi":55},{"h":9.9,"lo":33,"hi":55.5},{"h":10.15,"lo":33.5,"hi":56},{"h":10.4,"lo":34,"hi":56.5},{"h":10.65,"lo":34,"hi":56.5},{"h":10.9,"lo":34.5,"hi":56.5},{"h":11.15,"lo":34.5,"hi":57},{"h":11.4,"lo":34.5,"hi":57},{"h":11.65,"lo":34.5,"hi":57},{"h":11.9,"lo":35,"hi":57.5},{"h":12.15,"lo":35,"hi":57},{"h":12.4,"lo":34.5,"hi":57},{"h":12.65,"lo":34.5,"hi":56.5},{"h":12.9,"lo":34.5,"hi":56.5},{"h":13.15,"lo":34.5,"hi":56},{"h":13.4,"lo":34.5,"hi":56},{"h":13.65,"lo":34.5,"hi":55.5},{"h":13.9,"lo":34.5,"hi":55},{"h":14.15,"lo":34.5,"hi":54.5},{"h":14.4,"lo":34.5,"hi":54},{"h":14.65,"lo":34.5,"hi":53},{"h":14.9,"lo":34.5,"hi":52.5},{"h":15.15,"lo":34.5,"hi":51.5},{"h":15.4,"lo":34.5,"hi":51},{"h":15.65,"lo":34.5,"hi":50},{"h":15.9,"lo":34.5,"hi":49},{"h":16.1,"lo":35,"hi":47.5},{"h":16.25,"lo":35,"hi":44},{"h":16.4,"lo":35,"hi":40.5},{"h":16.6,"lo":35.5,"hi":38},{"h":16.81,"lo":35.5,"hi":36}
    ],
    "duffie2_spikes": [
      {"h":7.24,"a":36,"b":45.7},{"h":8.69,"a":36,"b":53.8},{"h":9.0,"a":36,"b":54},{"h":10.4,"a":36,"b":57.5},{"h":11.9,"a":36,"b":58},{"h":12.2,"a":36,"b":57.9},{"h":15.3,"a":36,"b":53.7},
      {"h":6.9,"a":36,"b":40},{"h":7.1,"a":36,"b":42},{"h":7.35,"a":36,"b":44.5},{"h":7.6,"a":36,"b":46.5},{"h":7.85,"a":36,"b":48.5},{"h":8.1,"a":36,"b":50.5},{"h":8.35,"a":36,"b":51.5},{"h":8.55,"a":36,"b":52.5},{"h":9.25,"a":36,"b":54},{"h":9.55,"a":36,"b":55.5},{"h":9.8,"a":36,"b":56},{"h":10.1,"a":36,"b":56.5},{"h":10.6,"a":36,"b":57},{"h":10.9,"a":36,"b":57.2},{"h":11.2,"a":36,"b":57.5},{"h":11.6,"a":36,"b":57.5},{"h":12.4,"a":36,"b":57.5},{"h":12.7,"a":36,"b":57},{"h":13.0,"a":36,"b":57},{"h":13.3,"a":36,"b":56.5},{"h":13.6,"a":36,"b":56},{"h":13.9,"a":36,"b":55.5},{"h":14.2,"a":36,"b":55},{"h":14.5,"a":36,"b":54.5},{"h":14.8,"a":36,"b":53.5},{"h":15.1,"a":36,"b":52.5},{"h":15.6,"a":36,"b":51},{"h":15.85,"a":36,"b":50},{"h":16.05,"a":36,"b":48.5},
      {"h":7.0,"a":36,"b":32.2},{"h":8.8,"a":36,"b":31.8},{"h":14.6,"a":36,"b":33.4},
      {"h":7.2,"a":36,"b":32.5},{"h":7.6,"a":36,"b":32.8},{"h":8.0,"a":36,"b":32.5},{"h":8.5,"a":36,"b":32.2},{"h":9.3,"a":36,"b":32.5},{"h":9.8,"a":36,"b":32.5},{"h":10.3,"a":36,"b":33},{"h":11.0,"a":36,"b":33.5},{"h":11.6,"a":36,"b":33.5},{"h":12.4,"a":36,"b":33.8},{"h":13.2,"a":36,"b":33.8},{"h":13.9,"a":36,"b":33.8},{"h":14.3,"a":36,"b":33.5},{"h":15.0,"a":36,"b":33.8},{"h":15.5,"a":36,"b":33.8},{"h":16.0,"a":36,"b":34},{"h":16.5,"a":36,"b":34.5}
    ],
    "mattei": [
      {"h":6.66,"lo":34,"hi":34.5},{"h":6.78,"lo":33.5,"hi":37},{"h":6.95,"lo":32.5,"hi":39.5},{"h":7.2,"lo":32.5,"hi":41},{"h":7.45,"lo":32.5,"hi":43},{"h":7.7,"lo":33,"hi":44},{"h":7.95,"lo":33,"hi":45},{"h":8.2,"lo":32.5,"hi":46},{"h":8.45,"lo":33,"hi":46.5},{"h":8.7,"lo":32.5,"hi":47.5},{"h":8.95,"lo":32,"hi":48},{"h":9.2,"lo":33,"hi":48},{"h":9.45,"lo":33,"hi":48.5},{"h":9.7,"lo":32.5,"hi":49},{"h":9.95,"lo":32.5,"hi":49.5},{"h":10.2,"lo":33,"hi":49.5},{"h":10.45,"lo":33.5,"hi":50},{"h":10.7,"lo":34,"hi":49.5},{"h":10.95,"lo":34,"hi":50},{"h":11.2,"lo":34.5,"hi":49.5},{"h":11.45,"lo":34.5,"hi":50},{"h":11.7,"lo":34.5,"hi":50},{"h":11.95,"lo":35,"hi":50.5},{"h":12.2,"lo":34.5,"hi":50},{"h":12.45,"lo":35,"hi":50},{"h":12.7,"lo":34.5,"hi":49.5},{"h":12.95,"lo":34.5,"hi":49.5},{"h":13.2,"lo":34.5,"hi":49.5},{"h":13.45,"lo":34.5,"hi":49},{"h":13.7,"lo":34,"hi":49.5},{"h":13.95,"lo":34,"hi":50},{"h":14.2,"lo":34.5,"hi":49.5},{"h":14.45,"lo":34,"hi":49.5},{"h":14.7,"lo":34,"hi":49},{"h":14.95,"lo":34,"hi":48},{"h":15.2,"lo":34.5,"hi":47},{"h":15.45,"lo":34,"hi":48.5},{"h":15.7,"lo":34,"hi":47},{"h":15.95,"lo":34,"hi":46},{"h":16.15,"lo":34,"hi":45},{"h":16.3,"lo":34.5,"hi":40},{"h":16.5,"lo":34.5,"hi":38},{"h":16.7,"lo":35,"hi":36.5},{"h":16.84,"lo":35,"hi":35.3}
    ],
    "mattei_spikes": [
      {"h":7.1,"a":36,"b":42.5},{"h":7.21,"a":36,"b":42.7},{"h":11.9,"a":36,"b":51},{"h":13.9,"a":36,"b":50.5},{"h":15.45,"a":36,"b":49},
      {"h":6.9,"a":36,"b":39},{"h":7.35,"a":36,"b":43},{"h":7.6,"a":36,"b":44.5},{"h":7.85,"a":36,"b":45.5},{"h":8.1,"a":36,"b":46.5},{"h":8.4,"a":36,"b":47},{"h":8.65,"a":36,"b":48},{"h":9.0,"a":36,"b":48.5},{"h":9.35,"a":36,"b":49},{"h":9.65,"a":36,"b":49.5},{"h":10.05,"a":36,"b":50},{"h":10.3,"a":36,"b":50.2},{"h":10.6,"a":36,"b":50.3},{"h":11.0,"a":36,"b":50.5},{"h":11.35,"a":36,"b":50.3},{"h":11.6,"a":36,"b":50.5},{"h":12.15,"a":36,"b":50.6},{"h":12.5,"a":36,"b":50.5},{"h":12.9,"a":36,"b":50.2},{"h":13.3,"a":36,"b":50},{"h":13.6,"a":36,"b":50},{"h":14.1,"a":36,"b":50.3},{"h":14.4,"a":36,"b":50.2},{"h":14.7,"a":36,"b":49.8},{"h":14.9,"a":36,"b":49},{"h":15.25,"a":36,"b":48},{"h":15.65,"a":36,"b":48.5},{"h":15.9,"a":36,"b":47},{"h":16.1,"a":36,"b":46},
      {"h":7.0,"a":36,"b":32},{"h":8.95,"a":36,"b":31.8},
      {"h":7.3,"a":36,"b":32.2},{"h":7.7,"a":36,"b":32.5},{"h":8.1,"a":36,"b":32.2},{"h":8.6,"a":36,"b":32.2},{"h":9.3,"a":36,"b":32.5},{"h":9.8,"a":36,"b":32},{"h":10.3,"a":36,"b":32.5},{"h":10.9,"a":36,"b":33.5},{"h":11.5,"a":36,"b":33.8},{"h":12.1,"a":36,"b":34},{"h":12.8,"a":36,"b":33.8},{"h":13.5,"a":36,"b":33.5},{"h":14.2,"a":36,"b":33.8},{"h":14.8,"a":36,"b":33.5},{"h":15.3,"a":36,"b":33.8},{"h":15.9,"a":36,"b":33.5},{"h":16.4,"a":36,"b":34}
    ]
  },
  "concat": [
    {
      "width": 320, "height": 240,
      "layer": [
        {"data": {"name": "akyuz"}, "mark": {"type": "area", "color": "#0072BD"},
         "encoding": {
           "x": {"field": "h", "type": "quantitative", "scale": {"domain": [5.5, 18], "nice": false, "zero": false}, "axis": {"orient": "bottom", "values": [6, 8, 10, 12, 14, 16, 18], "title": "Hora (h)"}},
           "y": {"field": "lo", "type": "quantitative", "scale": {"domain": [20, 70], "nice": false, "zero": false}, "axis": {"orient": "left", "values": [20, 30, 40, 50, 60, 70], "title": "Tc Akyuz (°C)"}},
           "y2": {"field": "hi"}}},
        {"data": {"name": "akyuz_spikes"}, "mark": {"type": "rule", "color": "#0072BD", "strokeWidth": 1},
         "encoding": {
           "x": {"field": "h", "type": "quantitative", "scale": {"domain": [5.5, 18], "nice": false, "zero": false}, "axis": {"orient": "top", "values": [6, 8, 10, 12, 14, 16, 18], "labels": false, "title": null}},
           "y": {"field": "a", "type": "quantitative", "scale": {"domain": [20, 70], "nice": false, "zero": false}, "axis": {"orient": "right", "values": [20, 30, 40, 50, 60, 70], "labels": false, "title": null}},
           "y2": {"field": "b"}}}
      ],
      "resolve": {"axis": {"x": "independent", "y": "independent"}}
    },
    {
      "width": 320, "height": 240,
      "layer": [
        {"data": {"name": "muzathik"}, "mark": {"type": "area", "color": "#0072BD"},
         "encoding": {
           "x": {"field": "h", "type": "quantitative", "scale": {"domain": [5.5, 18], "nice": false, "zero": false}, "axis": {"orient": "bottom", "values": [6, 8, 10, 12, 14, 16, 18], "title": "Hora (h)"}},
           "y": {"field": "lo", "type": "quantitative", "scale": {"domain": [10, 60], "nice": false, "zero": false}, "axis": {"orient": "left", "values": [10, 20, 30, 40, 50, 60], "title": "Tc Muzathik (°C)", "labelPadding": 8, "titlePadding": 10}},
           "y2": {"field": "hi"}}},
        {"data": {"name": "muzathik_spikes"}, "mark": {"type": "rule", "color": "#0072BD", "strokeWidth": 1},
         "encoding": {
           "x": {"field": "h", "type": "quantitative", "scale": {"domain": [5.5, 18], "nice": false, "zero": false}, "axis": {"orient": "top", "values": [6, 8, 10, 12, 14, 16, 18], "labels": false, "title": null}},
           "y": {"field": "a", "type": "quantitative", "scale": {"domain": [10, 60], "nice": false, "zero": false}, "axis": {"orient": "right", "values": [10, 20, 30, 40, 50, 60], "labels": false, "title": null}},
           "y2": {"field": "b"}}}
      ],
      "resolve": {"axis": {"x": "independent", "y": "independent"}}
    },
    {
      "width": 320, "height": 232,
      "layer": [
        {"data": {"name": "standart"}, "mark": {"type": "area", "color": "#0072BD"},
         "encoding": {
           "x": {"field": "h", "type": "quantitative", "scale": {"domain": [5.5, 18], "nice": false, "zero": false}, "axis": {"orient": "bottom", "values": [6, 8, 10, 12, 14, 16, 18], "title": "Hora (h)"}},
           "y": {"field": "lo", "type": "quantitative", "scale": {"domain": [20, 80], "nice": false, "zero": false}, "axis": {"orient": "left", "values": [20, 40, 60, 80], "title": "Tc Standart (°C)"}},
           "y2": {"field": "hi"}}},
        {"data": {"name": "standart_spikes"}, "mark": {"type": "rule", "color": "#0072BD", "strokeWidth": 1},
         "encoding": {
           "x": {"field": "h", "type": "quantitative", "scale": {"domain": [5.5, 18], "nice": false, "zero": false}, "axis": {"orient": "top", "values": [6, 8, 10, 12, 14, 16, 18], "labels": false, "title": null}},
           "y": {"field": "a", "type": "quantitative", "scale": {"domain": [20, 80], "nice": false, "zero": false}, "axis": {"orient": "right", "values": [20, 40, 60, 80], "labels": false, "title": null}},
           "y2": {"field": "b"}}}
      ],
      "resolve": {"axis": {"x": "independent", "y": "independent"}}
    },
    {
      "width": 320, "height": 232,
      "layer": [
        {"data": {"name": "noct"}, "mark": {"type": "area", "color": "#0072BD"},
         "encoding": {
           "x": {"field": "h", "type": "quantitative", "scale": {"domain": [5.5, 18], "nice": false, "zero": false}, "axis": {"orient": "bottom", "values": [6, 8, 10, 12, 14, 16, 18], "title": "Hora (h)"}},
           "y": {"field": "lo", "type": "quantitative", "scale": {"domain": [10, 80], "nice": false, "zero": false}, "axis": {"orient": "left", "values": [20, 40, 60, 80], "title": "Tc NOCT-1P (°C)", "labelPadding": 8, "titlePadding": 10}},
           "y2": {"field": "hi"}}},
        {"data": {"name": "noct_spikes"}, "mark": {"type": "rule", "color": "#0072BD", "strokeWidth": 1},
         "encoding": {
           "x": {"field": "h", "type": "quantitative", "scale": {"domain": [5.5, 18], "nice": false, "zero": false}, "axis": {"orient": "top", "values": [6, 8, 10, 12, 14, 16, 18], "labels": false, "title": null}},
           "y": {"field": "a", "type": "quantitative", "scale": {"domain": [10, 80], "nice": false, "zero": false}, "axis": {"orient": "right", "values": [20, 40, 60, 80], "labels": false, "title": null}},
           "y2": {"field": "b"}}}
      ],
      "resolve": {"axis": {"x": "independent", "y": "independent"}}
    },
    {
      "width": 320, "height": 241,
      "layer": [
        {"data": {"name": "skoplaki"}, "mark": {"type": "area", "color": "#0072BD"},
         "encoding": {
           "x": {"field": "h", "type": "quantitative", "scale": {"domain": [5.5, 18], "nice": false, "zero": false}, "axis": {"orient": "bottom", "values": [6, 8, 10, 12, 14, 16, 18], "title": "Hora (h)"}},
           "y": {"field": "lo", "type": "quantitative", "scale": {"domain": [20, 90], "nice": false, "zero": false}, "axis": {"orient": "left", "values": [20, 40, 60, 80], "title": "Tc Skoplaki & Palyvos (°C)"}},
           "y2": {"field": "hi"}}},
        {"data": {"name": "skoplaki_spikes"}, "mark": {"type": "rule", "color": "#0072BD", "strokeWidth": 1},
         "encoding": {
           "x": {"field": "h", "type": "quantitative", "scale": {"domain": [5.5, 18], "nice": false, "zero": false}, "axis": {"orient": "top", "values": [6, 8, 10, 12, 14, 16, 18], "labels": false, "title": null}},
           "y": {"field": "a", "type": "quantitative", "scale": {"domain": [20, 90], "nice": false, "zero": false}, "axis": {"orient": "right", "values": [20, 40, 60, 80], "labels": false, "title": null}},
           "y2": {"field": "b"}}}
      ],
      "resolve": {"axis": {"x": "independent", "y": "independent"}}
    },
    {
      "width": 324, "height": 241,
      "layer": [
        {"data": {"name": "duffie1"}, "mark": {"type": "area", "color": "#0072BD"},
         "encoding": {
           "x": {"field": "h", "type": "quantitative", "scale": {"domain": [5.5, 18], "nice": false, "zero": false}, "axis": {"orient": "bottom", "values": [6, 8, 10, 12, 14, 16, 18], "title": "Hora (h)"}},
           "y": {"field": "lo", "type": "quantitative", "scale": {"domain": [20, 120], "nice": false, "zero": false}, "axis": {"orient": "left", "values": [20, 40, 60, 80, 100, 120], "title": "Tc Duffie & Beckman I (°C)", "labelPadding": 14, "titlePadding": 10}},
           "y2": {"field": "hi"}}},
        {"data": {"name": "duffie1_spikes"}, "mark": {"type": "rule", "color": "#0072BD", "strokeWidth": 1},
         "encoding": {
           "x": {"field": "h", "type": "quantitative", "scale": {"domain": [5.5, 18], "nice": false, "zero": false}, "axis": {"orient": "top", "values": [6, 8, 10, 12, 14, 16, 18], "labels": false, "title": null}},
           "y": {"field": "a", "type": "quantitative", "scale": {"domain": [20, 120], "nice": false, "zero": false}, "axis": {"orient": "right", "values": [20, 40, 60, 80, 100, 120], "labels": false, "title": null}},
           "y2": {"field": "b"}}}
      ],
      "resolve": {"axis": {"x": "independent", "y": "independent"}}
    },
    {
      "width": 320, "height": 245,
      "layer": [
        {"data": {"name": "sandia"}, "mark": {"type": "area", "color": "#0072BD"},
         "encoding": {
           "x": {"field": "h", "type": "quantitative", "scale": {"domain": [5.5, 18], "nice": false, "zero": false}, "axis": {"orient": "bottom", "values": [6, 8, 10, 12, 14, 16, 18], "title": "Hora (h)"}},
           "y": {"field": "lo", "type": "quantitative", "scale": {"domain": [20, 80], "nice": false, "zero": false}, "axis": {"orient": "left", "values": [20, 40, 60, 80], "title": "Tc Sandia (°C)"}},
           "y2": {"field": "hi"}}},
        {"data": {"name": "sandia_spikes"}, "mark": {"type": "rule", "color": "#0072BD", "strokeWidth": 1},
         "encoding": {
           "x": {"field": "h", "type": "quantitative", "scale": {"domain": [5.5, 18], "nice": false, "zero": false}, "axis": {"orient": "top", "values": [6, 8, 10, 12, 14, 16, 18], "labels": false, "title": null}},
           "y": {"field": "a", "type": "quantitative", "scale": {"domain": [20, 80], "nice": false, "zero": false}, "axis": {"orient": "right", "values": [20, 40, 60, 80], "labels": false, "title": null}},
           "y2": {"field": "b"}}}
      ],
      "resolve": {"axis": {"x": "independent", "y": "independent"}}
    },
    {
      "width": 325, "height": 245,
      "layer": [
        {"data": {"name": "chenni"}, "mark": {"type": "area", "color": "#0072BD"},
         "encoding": {
           "x": {"field": "h", "type": "quantitative", "scale": {"domain": [5.5, 18], "nice": false, "zero": false}, "axis": {"orient": "bottom", "values": [6, 8, 10, 12, 14, 16, 18], "title": "Hora (h)"}},
           "y": {"field": "lo", "type": "quantitative", "scale": {"domain": [20, 70], "nice": false, "zero": false}, "axis": {"orient": "left", "values": [20, 30, 40, 50, 60, 70], "title": "Tc Chenni (°C)"}},
           "y2": {"field": "hi"}}},
        {"data": {"name": "chenni_spikes"}, "mark": {"type": "rule", "color": "#0072BD", "strokeWidth": 1},
         "encoding": {
           "x": {"field": "h", "type": "quantitative", "scale": {"domain": [5.5, 18], "nice": false, "zero": false}, "axis": {"orient": "top", "values": [6, 8, 10, 12, 14, 16, 18], "labels": false, "title": null}},
           "y": {"field": "a", "type": "quantitative", "scale": {"domain": [20, 70], "nice": false, "zero": false}, "axis": {"orient": "right", "values": [20, 30, 40, 50, 60, 70], "labels": false, "title": null}},
           "y2": {"field": "b"}}}
      ],
      "resolve": {"axis": {"x": "independent", "y": "independent"}}
    },
    {
      "width": 320, "height": 252,
      "layer": [
        {"data": {"name": "duffie2"}, "mark": {"type": "area", "color": "#0072BD"},
         "encoding": {
           "x": {"field": "h", "type": "quantitative", "scale": {"domain": [5.5, 18], "nice": false, "zero": false}, "axis": {"orient": "bottom", "values": [6, 8, 10, 12, 14, 16, 18], "title": "Hora (h)"}},
           "y": {"field": "lo", "type": "quantitative", "scale": {"domain": [20, 60], "nice": false, "zero": false}, "axis": {"orient": "left", "values": [20, 30, 40, 50, 60], "title": "Tc Duffie & Beckman II (°C)"}},
           "y2": {"field": "hi"}}},
        {"data": {"name": "duffie2_spikes"}, "mark": {"type": "rule", "color": "#0072BD", "strokeWidth": 1},
         "encoding": {
           "x": {"field": "h", "type": "quantitative", "scale": {"domain": [5.5, 18], "nice": false, "zero": false}, "axis": {"orient": "top", "values": [6, 8, 10, 12, 14, 16, 18], "labels": false, "title": null}},
           "y": {"field": "a", "type": "quantitative", "scale": {"domain": [20, 60], "nice": false, "zero": false}, "axis": {"orient": "right", "values": [20, 30, 40, 50, 60], "labels": false, "title": null}},
           "y2": {"field": "b"}}}
      ],
      "resolve": {"axis": {"x": "independent", "y": "independent"}}
    },
    {
      "width": 331, "height": 252,
      "layer": [
        {"data": {"name": "mattei"}, "mark": {"type": "area", "color": "#0072BD"},
         "encoding": {
           "x": {"field": "h", "type": "quantitative", "scale": {"domain": [5.5, 18], "nice": false, "zero": false}, "axis": {"orient": "bottom", "values": [6, 8, 10, 12, 14, 16, 18], "title": "Hora (h)"}},
           "y": {"field": "lo", "type": "quantitative", "scale": {"domain": [20, 60], "nice": false, "zero": false}, "axis": {"orient": "left", "values": [20, 30, 40, 50, 60], "title": "Tc Mattei (°C)"}},
           "y2": {"field": "hi"}}},
        {"data": {"name": "mattei_spikes"}, "mark": {"type": "rule", "color": "#0072BD", "strokeWidth": 1},
         "encoding": {
           "x": {"field": "h", "type": "quantitative", "scale": {"domain": [5.5, 18], "nice": false, "zero": false}, "axis": {"orient": "top", "values": [6, 8, 10, 12, 14, 16, 18], "labels": false, "title": null}},
           "y": {"field": "a", "type": "quantitative", "scale": {"domain": [20, 60], "nice": false, "zero": false}, "axis": {"orient": "right", "values": [20, 30, 40, 50, 60], "labels": false, "title": null}},
           "y2": {"field": "b"}}}
      ],
      "resolve": {"axis": {"x": "independent", "y": "independent"}}
    }
  ]
}
